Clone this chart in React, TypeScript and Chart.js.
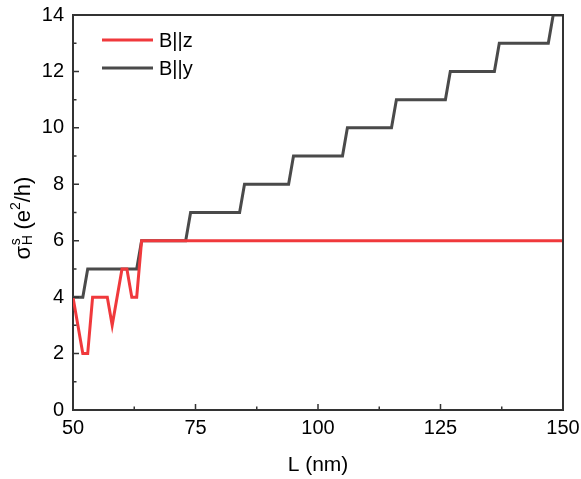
import React, { useEffect, useRef } from "react";
import { Chart, registerables } from "chart.js";

Chart.register(...registerables);

// Data (L in nm, sigma in e^2/h)
const redL = [50, 52, 53, 54, 57, 58, 60, 61, 62, 63, 64, 150];
const redVal = [4, 2, 2, 4, 4, 3, 5, 5, 4, 4, 6, 6];
const grayL = [50, 52, 53, 63, 64, 73, 74, 84, 85, 94, 95, 105, 106, 115, 116, 126, 127, 136, 137, 147, 148, 150];
const grayVal = [4, 4, 5, 5, 6, 6, 7, 7, 8, 8, 9, 9, 10, 10, 11, 11, 12, 12, 13, 13, 14, 14];
const seriesNames = ["B||z", "B||y"];
const xTicks = [50, 75, 100, 125, 150];
const xMinorTicks = [62.5, 87.5, 112.5, 137.5];
const yTicks = [0, 2, 4, 6, 8, 10, 12, 14];
const yMinorTicks = [1, 3, 5, 7, 9, 11, 13];

const FONT = "'Liberation Sans', Arial, Helvetica, sans-serif";
const RED = "#f0393c";
const GRAY = "#4a4a4a";
const AXIS = "#333333";

const decor = {
  id: "decor",
  afterDraw(chart: any) {
    const { ctx, chartArea } = chart;
    const xs = chart.scales.x;
    const ys = chart.scales.y;
    const { left, right, top, bottom } = chartArea;
    ctx.save();
    // frame top/right
    ctx.strokeStyle = AXIS;
    ctx.lineWidth = 2;
    ctx.beginPath();
    ctx.moveTo(left, top);
    ctx.lineTo(right, top);
    ctx.lineTo(right, bottom);
    ctx.stroke();
    // inward ticks
    ctx.lineWidth = 1.5;
    ctx.beginPath();
    xTicks.forEach((v) => {
      const p = xs.getPixelForValue(v);
      if (v === xs.min || v === xs.max) return;
      ctx.moveTo(p, bottom);
      ctx.lineTo(p, bottom - 6);
    });
    xMinorTicks.forEach((v) => {
      const p = xs.getPixelForValue(v);
      ctx.moveTo(p, bottom);
      ctx.lineTo(p, bottom - 3.5);
    });
    yTicks.forEach((v) => {
      if (v === ys.min || v === ys.max) return;
      const p = ys.getPixelForValue(v);
      ctx.moveTo(left, p);
      ctx.lineTo(left + 6, p);
    });
    yMinorTicks.forEach((v) => {
      const p = ys.getPixelForValue(v);
      ctx.moveTo(left, p);
      ctx.lineTo(left + 3.5, p);
    });
    ctx.stroke();

    // legend
    const colors = [RED, GRAY];
    ctx.font = `20px ${FONT}`;
    ctx.textBaseline = "middle";
    ctx.textAlign = "left";
    seriesNames.forEach((name, i) => {
      const y = 40 + i * 28;
      ctx.strokeStyle = colors[i];
      ctx.lineWidth = 3;
      ctx.beginPath();
      ctx.moveTo(102, y);
      ctx.lineTo(153, y);
      ctx.stroke();
      ctx.fillStyle = "#000";
      ctx.fillText(name, 159, y + 1);
    });

    // y-axis title: sigma_H^s (e^2/h)
    const big = `22px ${FONT}`;
    const small = `14px ${FONT}`;
    ctx.translate(29.5, 218);
    ctx.rotate(-Math.PI / 2);
    ctx.textBaseline = "alphabetic";
    ctx.fillStyle = "#000";
    ctx.font = big;
    const wSig = ctx.measureText("σ").width;
    const wMid = ctx.measureText(" (e").width;
    const wEnd = ctx.measureText("/h)").width;
    ctx.font = small;
    const wS = ctx.measureText("s").width;
    const wH = ctx.measureText("H").width;
    const w2 = ctx.measureText("2").width;
    const wSub = Math.max(wS, wH);
    const total = wSig + wSub + wMid + w2 + wEnd;
    let x = -total / 2;
    ctx.font = big;
    ctx.fillText("σ", x, 0);
    x += wSig;
    ctx.font = small;
    ctx.fillText("s", x + 0.5, -10);
    ctx.fillText("H", x + 0.5, 2);
    x += wSub;
    ctx.font = big;
    ctx.fillText(" (e", x, 0);
    x += wMid;
    ctx.font = small;
    ctx.fillText("2", x, -10);
    x += w2;
    ctx.font = big;
    ctx.fillText("/h)", x, 0);
    ctx.restore();
  },
};

const zeroPad = (s: any) => {
  s.paddingTop = 0;
  s.paddingBottom = 0;
  s.paddingLeft = 0;
  s.paddingRight = 0;
};

export default function App() {
  const ref = useRef<HTMLCanvasElement | null>(null);
  useEffect(() => {
    document.body.style.margin = "0";
    const canvas = ref.current;
    if (!canvas) return;
    const chart = new Chart(canvas, {
      type: "line",
      data: {
        datasets: [
          {
            label: seriesNames[0],
            data: redL.map((l, i) => ({ x: l, y: redVal[i] })),
            borderColor: RED,
            backgroundColor: RED,
            borderWidth: 3,
            pointRadius: 0,
            tension: 0,
          },
          {
            label: seriesNames[1],
            data: grayL.map((l, i) => ({ x: l, y: grayVal[i] })),
            borderColor: GRAY,
            backgroundColor: GRAY,
            borderWidth: 3,
            pointRadius: 0,
            tension: 0,
          },
        ],
      },
      options: {
        animation: false,
        responsive: false,
        maintainAspectRatio: false,
        layout: { padding: { top: 15, right: 18, left: 0, bottom: 0 } },
        plugins: {
          legend: { display: false },
          tooltip: { enabled: false },
        },
        scales: {
          x: {
            type: "linear",
            min: 50,
            max: 150,
            afterBuildTicks: (s: any) => {
              s.ticks = xTicks.map((v) => ({ value: v }));
            },
            afterFit: (s: any) => {
              s.height = 69;
              zeroPad(s);
            },
            grid: { display: false, drawTicks: false },
            border: { display: true, color: AXIS, width: 2 },
            ticks: {
              font: { family: FONT, size: 20 },
              color: "#000",
              padding: 6,
              maxRotation: 0,
            },
            title: {
              display: true,
              text: "L (nm)",
              font: { family: FONT, size: 21 },
              color: "#000",
              padding: { top: 0, bottom: 1 },
            },
          },
          y: {
            type: "linear",
            min: 0,
            max: 14,
            afterBuildTicks: (s: any) => {
              s.ticks = yTicks.map((v) => ({ value: v }));
            },
            afterFit: (s: any) => {
              s.width = 73;
              zeroPad(s);
            },
            grid: { display: false, drawTicks: false },
            border: { display: true, color: AXIS, width: 2 },
            ticks: {
              font: { family: FONT, size: 20 },
              color: "#000",
              padding: 9,
            },
          },
        },
      },
      plugins: [decor],
    } as any);
    return () => chart.destroy();
  }, []);
  return (
    <div style={{ position: "absolute", left: 0, top: 0, width: 581, height: 479 }}>
      <canvas ref={ref} width={581} height={479} style={{ width: 581, height: 479, display: "block" }} />
    </div>
  );
}
